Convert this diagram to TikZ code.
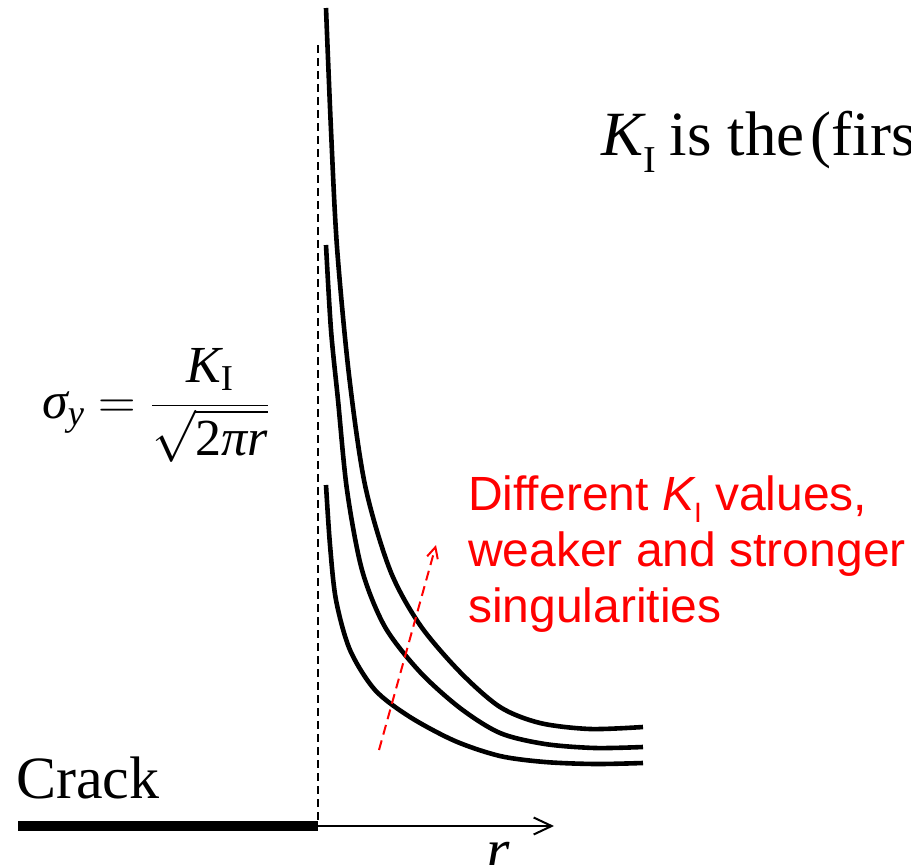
\RequirePackage{fix-cm}
\documentclass[tikz,border=0pt]{standalone}
\usepackage{amsmath}
\usepackage{fontspec}
\setmainfont{Liberation Serif}
\newfontfamily\arialf{Liberation Sans}
\usetikzlibrary{arrows.meta}
\definecolor{redtxt}{RGB}{255,0,0}
\begin{document}
\begin{tikzpicture}[x=1pt,y=-1pt,
  curve/.style={line width=4.6pt},
  serif/.style={anchor=base west, inner sep=0pt, font=\fontsize{60}{72}\selectfont},
  redlabel/.style={anchor=base west, inner sep=0pt, text=redtxt, font=\arialf\fontsize{48}{56}\selectfont}]
\useasboundingbox (0,0) rectangle (911,865);
\clip (0,0) rectangle (911,865);
% coordinates
\coordinate (crackL) at (18,826);
\coordinate (tip) at (318,826);
\coordinate (rend) at (554,826);
\coordinate (dtop) at (318,45);
\coordinate (aS) at (379,750);
\coordinate (aE) at (436,545);
% crack, axis, dashed line
\draw[line width=10pt] (crackL) -- (tip);
\draw[line width=2pt, -{Straight Barb[length=18pt,width=17pt,line width=2pt]}] (tip) -- (rend);
\draw[line width=2.2pt, dash pattern=on 8pt off 5pt] (dtop) -- (tip);
% curves
\draw[curve] plot[smooth, tension=0.5] coordinates {(326,8) (331,130) (337,247) (349,375) (365,485) (390,570) (420,625) (460,672) (500,707) (540,723) (590,729) (643,727)};
\draw[curve] plot[smooth, tension=0.5] coordinates {(326,245) (331,330) (338,400) (347,490) (362,570) (385,627) (420,672) (460,708) (500,733) (545,744) (595,748) (643,747)};
\draw[curve] plot[smooth, tension=0.5] coordinates {(326,485) (330,545) (336,600) (350,650) (375,690) (410,717) (455,741) (500,756) (545,762) (595,764) (643,763)};
% red arrow
\draw[redtxt, line width=2pt, dash pattern=on 10pt off 6pt, -{Straight Barb[length=11pt,width=11pt,line width=2pt]}] (aS) -- (aE);
% texts
\node[serif] (crack) at (16,798) {Crack};
\node[serif] (rlab) at (486,870) {\itshape r};
\node[serif, font=\fontsize{63}{72}\selectfont] (title) at (601,155) {{\itshape K}\raisebox{-17pt}{\fontsize{38}{38}\selectfont I}\hspace{14pt}is the\hspace{6pt}(firs};
\node[anchor=base west, inner sep=0pt, font=\fontsize{52}{60}\selectfont] (formula) at (42,418) {$\text{\itshape σ}_{\text{\itshape y}} = \dfrac{\text{\itshape K}_{\text{I}}}{\sqrt{\text{2\itshape πr}}}$};
\node[redlabel] (l1) at (468,510) {Different {\itshape K}\raisebox{-12pt}{\fontsize{28}{28}\selectfont I} values,};
\node[redlabel] (l2) at (468,566) {weaker and stronger};
\node[redlabel] (l3) at (468,622) {singularities};
\end{tikzpicture}
\end{document}
